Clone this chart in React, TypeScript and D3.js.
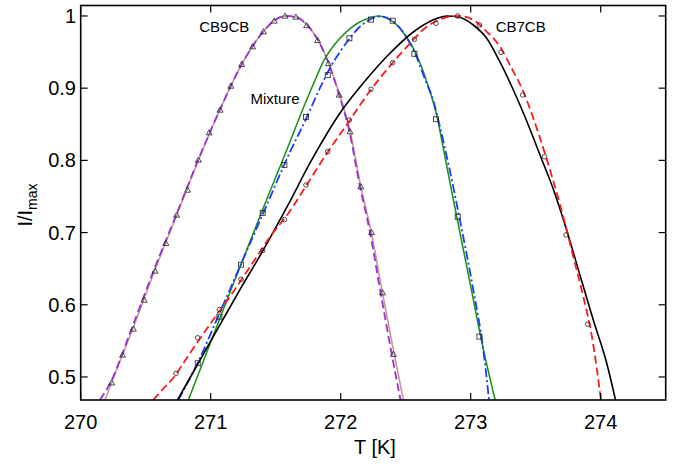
import React, { useEffect } from 'react';
import * as d3 from 'd3';

// ---- Axis ticks ----
const xTicks = [270, 271, 272, 273, 274];
const yTicks = [0.5, 0.6, 0.7, 0.8, 0.9, 1];

// ---- Markers (measured data) ----
const triT = [270.238, 270.322, 270.405, 270.488, 270.572, 270.655, 270.738, 270.822, 270.905, 270.988, 271.072, 271.155, 271.238, 271.322, 271.405, 271.488, 271.572, 271.655, 271.738, 271.822, 271.905, 271.988, 272.072, 272.155, 272.238, 272.322, 272.405];
const triI = [0.492, 0.5305, 0.5665, 0.6066, 0.6468, 0.6852, 0.7244, 0.759, 0.8006, 0.8384, 0.8698, 0.903, 0.9331, 0.9575, 0.9783, 0.9931, 1.0, 0.9986, 0.9868, 0.9663, 0.9342, 0.8906, 0.8398, 0.7636, 0.7001, 0.6168, 0.5315];

const sqT = [270.9, 271.067, 271.233, 271.4, 271.567, 271.733, 271.9, 272.067, 272.233, 272.4, 272.567, 272.733, 272.9, 273.067];
const sqI = [0.519, 0.5835, 0.6555, 0.7271, 0.7936, 0.86, 0.918, 0.969, 0.995, 0.9935, 0.9476, 0.857, 0.722, 0.556];

const circT = [270.733, 270.9, 271.067, 271.233, 271.4, 271.567, 271.733, 271.9, 272.067, 272.233, 272.4, 272.567, 272.733, 272.9, 273.067, 273.233, 273.4, 273.567, 273.733, 273.9];
const circI = [0.5051, 0.5543, 0.5934, 0.6353, 0.6753, 0.718, 0.7659, 0.812, 0.856, 0.8985, 0.9353, 0.9677, 0.9899, 1.0, 0.9875, 0.9497, 0.8906, 0.8051, 0.6967, 0.573];

// ---- Fit lines ----
const cb9SolidT = [270.187, 270.238, 270.4, 270.568, 270.738, 270.905, 271.068, 271.238, 271.405, 271.495, 271.572, 271.656, 271.741, 271.825, 271.906, 271.991, 272.072, 272.154, 272.235, 272.32, 272.41, 272.482];
const cb9SolidI = [0.4681, 0.4924, 0.5665, 0.6468, 0.7237, 0.7999, 0.8691, 0.9328, 0.9785, 0.9945, 1.0, 0.9986, 0.9875, 0.9668, 0.9349, 0.8913, 0.8407, 0.7645, 0.7008, 0.6177, 0.5332, 0.4681];

const cb9DashT = [270.148, 270.229, 270.391, 270.56, 270.733, 270.902, 271.068, 271.238, 271.405, 271.495, 271.572, 271.656, 271.741, 271.825, 271.906, 271.987, 272.066, 272.147, 272.225, 272.306, 272.391, 272.46];
const cb9DashI = [0.4681, 0.4924, 0.5665, 0.6468, 0.7237, 0.7999, 0.8691, 0.9328, 0.9785, 0.9945, 1.0, 0.9986, 0.9875, 0.9668, 0.9349, 0.8913, 0.8407, 0.7645, 0.7008, 0.6177, 0.5332, 0.4681];

const mixSolidT = [270.828, 271.125, 271.429, 271.579, 271.725, 271.81, 271.866, 271.956, 272.046, 272.133, 272.225, 272.287, 272.356, 272.431, 272.495, 272.558, 272.61, 272.662, 272.738, 272.789, 272.841, 272.918, 272.995, 273.095, 273.188];
const mixSolidI = [0.4681, 0.6066, 0.7452, 0.8116, 0.8781, 0.9141, 0.9367, 0.9612, 0.9783, 0.9903, 0.9976, 1.0, 0.9972, 0.9875, 0.9737, 0.9553, 0.9349, 0.909, 0.8629, 0.8172, 0.7687, 0.6994, 0.6302, 0.5402, 0.4681];

const mixDashT = [270.751, 270.91, 271.072, 271.233, 271.402, 271.61, 271.733, 271.841, 271.918, 271.995, 272.072, 272.135, 272.195, 272.248, 272.302, 272.379, 272.462, 272.518, 272.572, 272.641, 272.718, 272.757, 272.833, 272.912, 273.02, 273.097, 273.141];
const mixDashI = [0.4681, 0.5235, 0.59, 0.6565, 0.7258, 0.8116, 0.8573, 0.9003, 0.928, 0.9506, 0.9695, 0.983, 0.9917, 0.9968, 0.9993, 0.9952, 0.982, 0.9668, 0.9483, 0.9159, 0.8791, 0.8514, 0.7913, 0.722, 0.6205, 0.5374, 0.4681];

const cb7SolidT = [270.745, 270.918, 271.075, 271.237, 271.405, 271.595, 271.764, 271.995, 272.2, 272.379, 272.558, 272.738, 272.815, 272.905, 273.02, 273.123, 273.225, 273.328, 273.418, 273.533, 273.635, 273.738, 273.84, 273.943, 274.046, 274.114];
const cb7SolidI = [0.4681, 0.5235, 0.5734, 0.6247, 0.6759, 0.7382, 0.7964, 0.8657, 0.9127, 0.9483, 0.9778, 0.9965, 1.0, 0.9986, 0.9875, 0.9691, 0.9363, 0.8975, 0.8601, 0.8075, 0.7604, 0.7036, 0.6413, 0.5789, 0.5194, 0.4681];

const cb7DashT = [270.558, 270.633, 270.712, 270.841, 271.018, 271.172, 271.302, 271.456, 271.61, 271.748, 271.895, 272.066, 272.231, 272.405, 272.572, 272.635, 272.738, 272.81, 272.905, 273.02, 273.123, 273.225, 273.315, 273.405, 273.482, 273.572, 273.648, 273.725, 273.789, 273.866, 273.933, 274.002];
const cb7DashI = [0.4681, 0.4834, 0.4986, 0.5332, 0.579, 0.6177, 0.6524, 0.6939, 0.7299, 0.7687, 0.8102, 0.8546, 0.8975, 0.9363, 0.9695, 0.9813, 0.9931, 0.9979, 1.0, 0.9945, 0.9783, 0.9575, 0.9276, 0.8952, 0.8583, 0.8089, 0.7636, 0.7129, 0.6666, 0.6112, 0.5554, 0.4681];

const FONT = '"Liberation Sans", Arial, Helvetica, sans-serif';

export default function App() {
  useEffect(() => {
    document.body.style.margin = '0';
  }, []);

  const W = 674, H = 466;
  const left = 80.7, right = 665.7, top = 5.5, bottom = 400;
  const x = d3.scaleLinear().domain([270, 274.5]).range([left, right]);
  const y = d3.scaleLinear().domain([0.4681, 1.0145]).range([bottom, top]);

  const line = d3.line<[number, number]>()
    .x(d => x(d[0]))
    .y(d => y(d[1]))
    .curve(d3.curveMonotoneX);

  const zip = (a: number[], b: number[]) => a.map((v, i) => [v, b[i]] as [number, number]);

  const series = [
    { T: cb9SolidT, I: cb9SolidI, color: '#c49a94', dash: undefined as string | undefined, w: 1.6 },
    { T: cb9DashT, I: cb9DashI, color: '#9b30d9', dash: '8,4', w: 1.8 },
    { T: mixSolidT, I: mixSolidI, color: '#1e941e', dash: undefined, w: 1.6 },
    { T: mixDashT, I: mixDashI, color: '#1a3cff', dash: '9,3,2,3', w: 1.8 },
    { T: cb7SolidT, I: cb7SolidI, color: '#000000', dash: undefined, w: 1.6 },
    { T: cb7DashT, I: cb7DashI, color: '#ff1a1a', dash: '8,4', w: 1.8 },
  ];

  const tickLen = 7;
  const markerStroke = '#222';

  return (
    <svg width={W} height={H} style={{ display: 'block', background: '#fff' }} fontFamily={FONT}>
      <defs>
        <clipPath id="plotclip">
          <rect x={left} y={top} width={right - left} height={bottom - top} />
        </clipPath>
      </defs>
      <rect x={0} y={0} width={W} height={H} fill="#fff" />

      <g clipPath="url(#plotclip)">
        {series.map((s, i) => (
          <path key={i} d={line(zip(s.T, s.I)) || ''} fill="none" stroke={s.color}
            strokeWidth={s.w} strokeDasharray={s.dash} strokeLinejoin="round" />
        ))}
        {triT.map((t, i) => {
          const cx = x(t), cy = y(triI[i]);
          return <path key={'t' + i} d={`M${cx - 3},${cy + 2.2} L${cx + 3},${cy + 2.2} L${cx},${cy - 3} Z`}
            fill="none" stroke={markerStroke} strokeWidth={0.8} />;
        })}
        {sqT.map((t, i) => {
          const cx = x(t), cy = y(sqI[i]);
          return <rect key={'s' + i} x={cx - 2.5} y={cy - 2.5} width={5} height={5}
            fill="none" stroke={markerStroke} strokeWidth={0.8} />;
        })}
        {circT.map((t, i) => (
          <circle key={'c' + i} cx={x(t)} cy={y(circI[i])} r={2.3}
            fill="none" stroke={markerStroke} strokeWidth={0.8} />
        ))}
      </g>

      {/* frame */}
      <rect x={left} y={top} width={right - left} height={bottom - top} fill="none" stroke="#000" strokeWidth={1.6} />

      {/* x ticks */}
      {xTicks.map(t => (
        <g key={'xt' + t}>
          <line x1={x(t)} x2={x(t)} y1={bottom} y2={bottom - tickLen} stroke="#000" strokeWidth={1.2} />
          <line x1={x(t)} x2={x(t)} y1={top} y2={top + tickLen} stroke="#000" strokeWidth={1.2} />
          <text x={x(t)} y={429} textAnchor="middle" fontSize={20} fill="#000">{t}</text>
        </g>
      ))}
      {/* y ticks */}
      {yTicks.map(t => (
        <g key={'yt' + t}>
          <line x1={left} x2={left + tickLen} y1={y(t)} y2={y(t)} stroke="#000" strokeWidth={1.2} />
          <line x1={right} x2={right - tickLen} y1={y(t)} y2={y(t)} stroke="#000" strokeWidth={1.2} />
          <text x={76} y={y(t) + 7} textAnchor="end" fontSize={20} fill="#000">{t === 1 ? '1' : t.toFixed(1)}</text>
        </g>
      ))}

      {/* axis labels */}
      <text x={375} y={454} textAnchor="middle" fontSize={20} fill="#000">T [K]</text>
      <text transform={`translate(32,205) rotate(-90)`} textAnchor="middle" fontSize={20} fill="#000">
        I/I<tspan fontSize={14} dy={5}>max</tspan>
      </text>

      {/* annotations */}
      <text x={x(270.912)} y={y(0.9778)} fontSize={15} fill="#000">CB9CB</text>
      <text x={x(271.306)} y={y(0.8774)} fontSize={15} fill="#000">Mixture</text>
      <text x={x(273.192)} y={y(0.9778)} fontSize={15} fill="#000">CB7CB</text>
    </svg>
  );
}
